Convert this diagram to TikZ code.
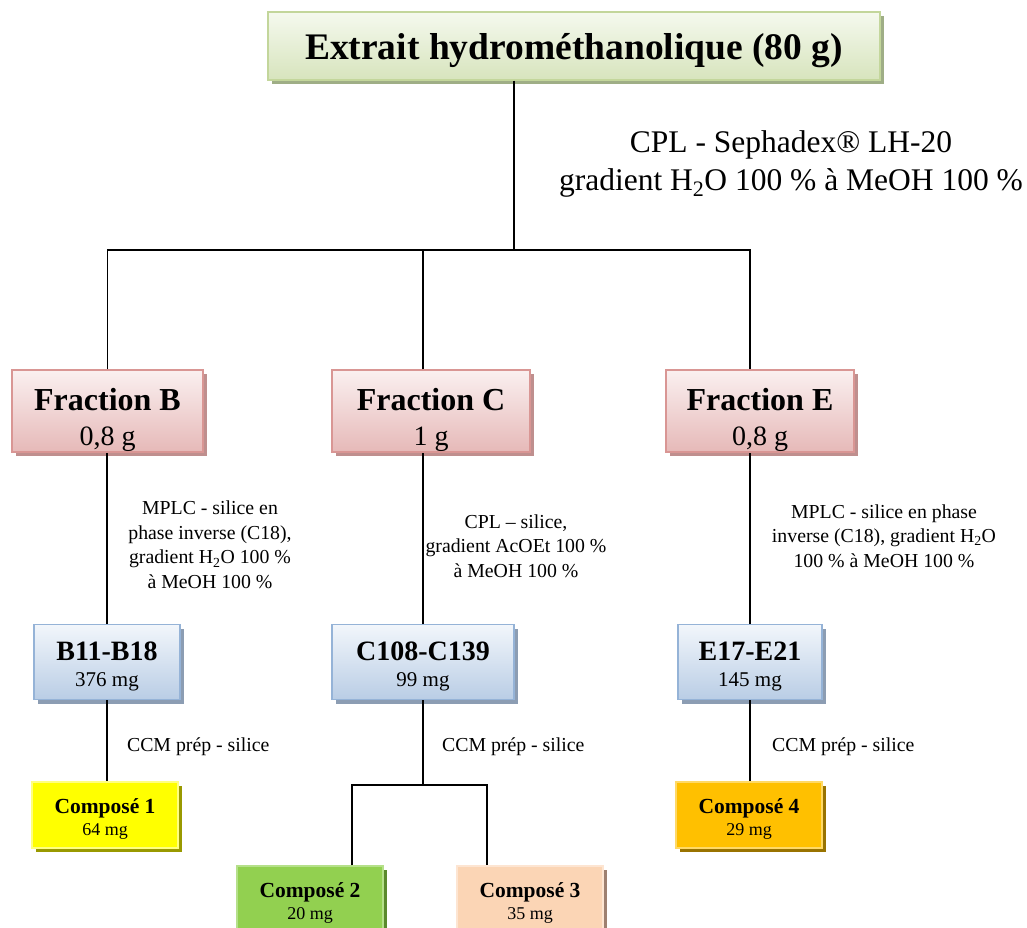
\documentclass[tikz,border=0pt]{standalone}
\usepackage{fontspec}
\setmainfont{Liberation Serif}
\usetikzlibrary{shadows}

\definecolor{vertbord}{HTML}{C3D69B}
\definecolor{verthaut}{HTML}{F5F9EE}
\definecolor{vertbas}{HTML}{D7E4BD}
\definecolor{vertombre}{HTML}{9FAE86}
\definecolor{rosebord}{HTML}{D99694}
\definecolor{rosehaut}{HTML}{FAF0F0}
\definecolor{rosebas}{HTML}{E6B9B8}
\definecolor{roseombre}{HTML}{BF8F8E}
\definecolor{bleubord}{HTML}{95B3D7}
\definecolor{bleuhaut}{HTML}{F2F6FB}
\definecolor{bleubas}{HTML}{B9CDE5}
\definecolor{bleuombre}{HTML}{8C9DB3}
% composes
\definecolor{jaune}{HTML}{FFFF00}
\definecolor{jaunebord}{HTML}{FFFF80}
\definecolor{jauneombre}{HTML}{999900}
\definecolor{vert}{HTML}{92D050}
\definecolor{vertclair}{HTML}{B5E08A}
\definecolor{vertfonce}{HTML}{5A8A2C}
\definecolor{peche}{HTML}{FBD5B5}
\definecolor{pechebord}{HTML}{FDE5D2}
\definecolor{pecheombre}{HTML}{9E8070}
\definecolor{orange}{HTML}{FFC000}
\definecolor{orangebord}{HTML}{FFD966}
\definecolor{orangeombre}{HTML}{997300}

\tikzset{
  boite/.style={draw, line width=1.5pt, inner sep=0pt, align=center},
  ombre/.style={drop shadow={shadow xshift=4pt, shadow yshift=-4pt, fill=#1, opacity=1}},
  extrait/.style={boite, draw=vertbord, top color=verthaut, bottom color=vertbas, ombre=vertombre,
    text depth=0pt, font=\fontsize{37.5}{42}\selectfont\bfseries},
  fraction/.style={boite, draw=rosebord, top color=rosehaut, bottom color=rosebas, ombre=roseombre,
    minimum height=82pt, font=\fontsize{28}{35}\selectfont},
  sousfr/.style={boite, draw=bleubord, top color=bleuhaut, bottom color=bleubas, ombre=bleuombre,
    minimum height=75pt, font=\fontsize{21}{26}\selectfont},
  compose/.style={boite, minimum width=146pt, minimum height=66pt, font=\fontsize{18}{22}\selectfont},
  methode/.style={align=center, font=\fontsize{19.8}{24.5}\selectfont},
}
\newcommand{\grostitre}[1]{{\fontsize{32}{33}\selectfont\bfseries\rule{0pt}{40pt}#1}}
\newcommand{\moyentitre}[1]{{\fontsize{28}{26}\selectfont\bfseries\rule{0pt}{27pt}#1}}
\newcommand{\petittitre}[1]{{\fontsize{21.5}{22}\selectfont\bfseries\rule{0pt}{23pt}#1}}

\begin{document}
\begin{tikzpicture}[x=1pt, y=-1pt, line width=1.5pt]
\useasboundingbox (0,0) rectangle (1027,928);

% extrait de depart
\node[extrait, minimum width=612pt, minimum height=68pt] (ext) at (574,46) {Extrait hydrométhanolique (80 g)};
\node[methode, font=\fontsize{31.5}{38}\selectfont] (cpl) at (791,164) {CPL - Sephadex® LH-20\\gradient H\textsubscript{2}O 100 \% à MeOH 100 \%};

% fractions
\node[fraction, minimum width=191pt] (fB) at (107.5,411) {\grostitre{Fraction B}\\0,8 g};
\node[fraction, minimum width=198pt] (fC) at (431,411) {\grostitre{Fraction C}\\1 g};
\node[fraction, minimum width=188pt] (fE) at (760,411) {\grostitre{Fraction E}\\0,8 g};

\coordinate (noeud) at (514,250);
\draw ([xshift=-60pt]ext.south) -- (noeud);
\draw (fB.north) |- (noeud) -| ([xshift=-10pt]fE.north);
\draw ([xshift=-8pt]fC.north) -- ([xshift=-8pt]fC.north |- noeud);

% sous-fractions
\node[sousfr, minimum width=146pt] (bB) at (107,662) {\moyentitre{B11-B18}\\376 mg};
\node[sousfr, minimum width=182pt] (bC) at (423,662) {\moyentitre{C108-C139}\\99 mg};
\node[sousfr, minimum width=144pt] (bE) at (750,662) {\moyentitre{E17-E21}\\145 mg};

\draw (bB.north) -- (bB.north |- fB.south);
\draw (bC.north) -- (bC.north |- fC.south);
\draw (bE.north) -- (bE.north |- fE.south);

\node[methode] (mB) at (210,545) {MPLC - silice en\\phase inverse (C18),\\gradient H\textsubscript{2}O 100 \%\\à MeOH 100 \%};
\node[methode] (mC) at (516,546) {CPL – silice,\\gradient AcOEt 100 \%\\à MeOH 100 \%};
\node[methode] (mE) at (884,536) {MPLC - silice en phase\\inverse (C18), gradient H\textsubscript{2}O\\100 \% à MeOH 100 \%};

% composes
\node[compose, fill=jaune, draw=jaunebord, ombre=jauneombre] (c1) at (105,815) {\petittitre{Composé 1}\\64 mg};
\node[compose, fill=vert, draw=vertclair, ombre=vertfonce] (c2) at (310,899) {\petittitre{Composé 2}\\20 mg};
\node[compose, fill=peche, draw=pechebord, ombre=pecheombre] (c3) at (530,899) {\petittitre{Composé 3}\\35 mg};
\node[compose, fill=orange, draw=orangebord, ombre=orangeombre] (c4) at (749,815) {\petittitre{Composé 4}\\29 mg};

\coordinate (noeudC) at (423,785);
\draw (bB.south) -- (bB.south |- c1.north);
\draw (bC.south) -- (noeudC);
\draw ([xshift=42pt]c2.north) |- (noeudC) -| ([xshift=-43pt]c3.north);
\draw (bE.south) -- (bE.south |- c4.north);

\node[methode, anchor=west] (ccmB) at (123,747) {CCM prép - silice};
\node[methode, anchor=west] (ccmC) at (438,747) {CCM prép - silice};
\node[methode, anchor=west] (ccmE) at (768,747) {CCM prép - silice};
\end{tikzpicture}
\end{document}
